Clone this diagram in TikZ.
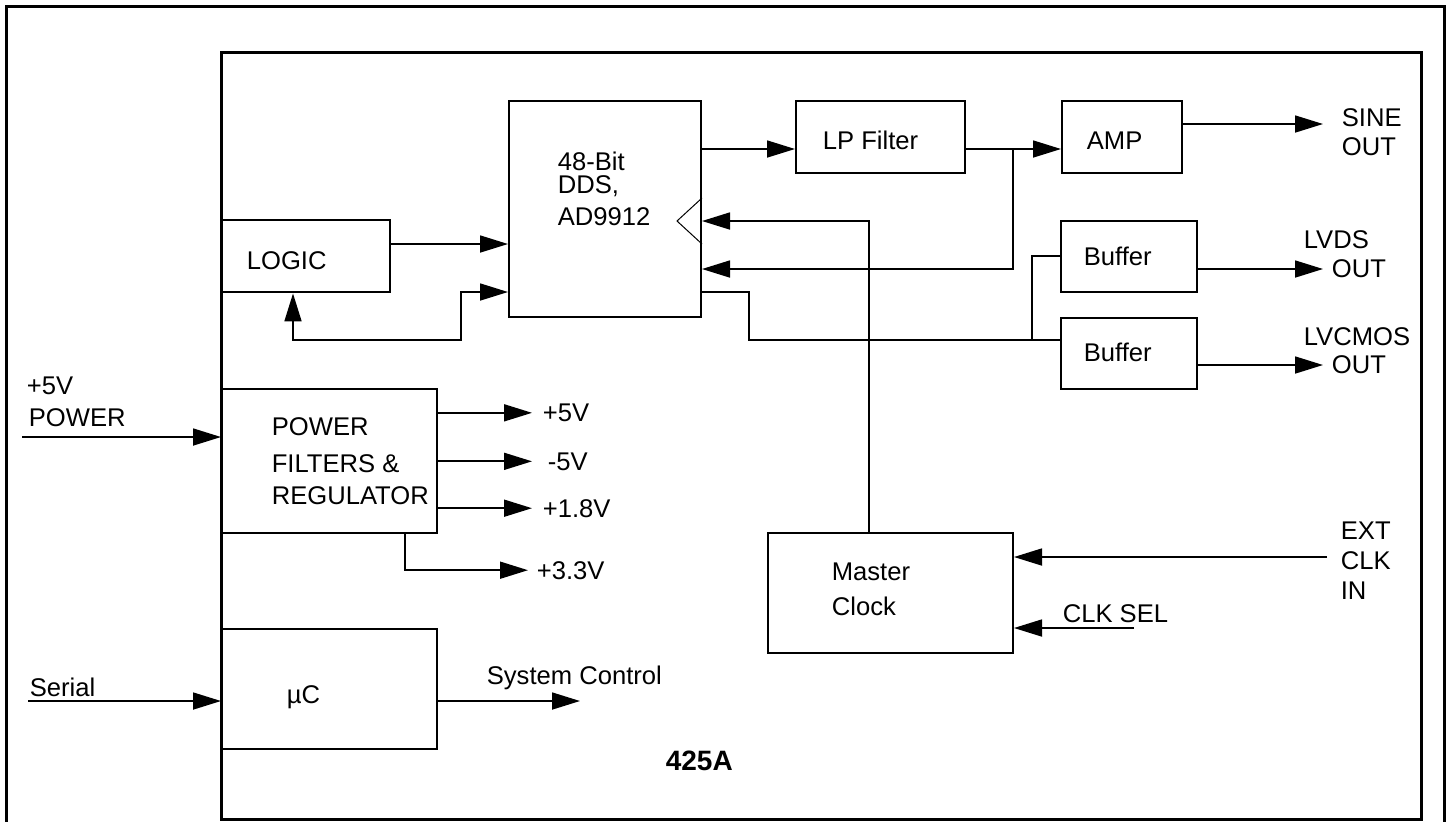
\documentclass[tikz,border=0pt]{standalone}
\usepackage{fontspec}
\setmainfont{Liberation Sans}
\usetikzlibrary{arrows.meta,positioning,calc}

\begin{document}
\begin{tikzpicture}[x=0.5pt, y=-0.5pt, >={Triangle[length=14pt,width=8.5pt]},
        line width=0.85pt,
        frame/.style={draw, line width=1.5pt},
        block/.style={rectangle, draw, line width=1pt, inner sep=0pt},
        lbl/.style={inner sep=0pt, anchor=base west, font=\fontsize{12.8}{15}\selectfont}]

    \useasboundingbox (0,0) rectangle (1450,821);

    % frames
    \draw[frame] (6,6) rectangle (1444,860);
    \draw[frame] (221,52.5) rectangle (1421,819);

    % blocks
    \node [block, line width=1.4pt, minimum width=84.5pt, minimum height=36pt] (logic) at (305.5,256) {};
    \node [block, minimum width=96pt, minimum height=108pt] (dds) at (605,209) {};
    \node [block, minimum width=84.5pt, minimum height=36pt] (lpf) at (880.5,137) {};
    \node [block, right=47.5pt of lpf, minimum width=60pt, minimum height=36pt] (amp) {};
    \node [block, minimum width=68pt, minimum height=35.5pt] (bufa) at (1129,256.5) {};
    \node [block, below=12pt of bufa, minimum width=68pt, minimum height=35.5pt] (bufb) {};
    \node [block, minimum width=107.5pt, minimum height=72pt] (power) at (329.5,461) {};
    \node [block, minimum width=107.5pt, minimum height=60pt] (mcu) at (329.5,689) {};
    \node [block, minimum width=122.5pt, minimum height=60pt] (mclk) at (890.5,593) {};

    % texts
    \node [lbl] (logictxt) at (246,269) {LOGIC};
    \node [lbl, align=left, anchor=north west, font=\fontsize{12.8}{11.5}\selectfont] (ddsa) at (557,151) {48-Bit\\DDS,};
    \node [lbl] (ddsc) at (557,225) {AD9912};
    \node [lbl] (lpftxt) at (822,149) {LP Filter};
    \node [lbl] (amptxt) at (1086,149) {AMP};
    \node [lbl] (bufatxt) at (1083,265) {Buffer};
    \node [lbl] (bufbtxt) at (1083,361) {Buffer};
    \node [lbl] (sinea) at (1341,126) {SINE};
    \node [lbl] (sineb) at (1341,155.5) {OUT};
    \node [lbl] (lvdsa) at (1303,248) {LVDS};
    \node [lbl] (lvdsb) at (1331,277) {OUT};
    \node [lbl] (cmosa) at (1303,345) {LVCMOS};
    \node [lbl] (cmosb) at (1331,373) {OUT};
    \node [lbl] (pwra) at (271,435) {POWER};
    \node [lbl] (pwrb) at (271,472) {FILTERS \&};
    \node [lbl] (pwrc) at (271,504) {REGULATOR};
    \node [lbl] (v5) at (542,421.5) {+5V};
    \node [lbl] (vm5) at (547,470) {-5V};
    \node [lbl] (v18) at (542,517) {+1.8V};
    \node [lbl] (v33) at (536,579) {+3.3V};
    \node [lbl] (ina) at (26,394) {+5V};
    \node [lbl] (inb) at (28,426.5) {POWER};
    \node [lbl] (sertxt) at (29,696) {Serial};
    \node [lbl] (mcutxt) at (286,703) {µC};
    \node [lbl] (ctrltxt) at (486,684) {System Control};
    \node [lbl, font=\fontsize{14}{16}\selectfont\bfseries] (model) at (665,770) {425A};
    \node [lbl] (clka) at (831,580) {Master};
    \node [lbl] (clkb) at (831,615) {Clock};
    \node [lbl] (sel) at (1062,622) {CLK SEL};
    \node [lbl, align=left, anchor=north west] (extlbl) at (1340,521.5) {EXT\\CLK\\IN};

    % free ends and joints
    \coordinate (lpjoin) at (1013,149);
    \coordinate (bufjoin) at (1032,340);
    \coordinate (sineend) at (1323,124);
    \coordinate (lvdsend) at (1323,269);
    \coordinate (cmosend) at (1323,365);
    \coordinate (pwrin) at (22,437);
    \coordinate (serin) at (28,701);
    \coordinate (ctrlend) at (580,701);
    \coordinate (extin) at (1327,557);
    \coordinate (selin) at (1134,628);

    % clock input mark
    \draw[line width=0.5pt] (dds.east |- 0,198) -- (677,221) -- (dds.east |- 0,244);

    % signal path
    \draw[->] (logic.east |- 0,244) -- (dds.west |- 0,244);
    \draw[<->] (logic.south -| 293,0) |- (461,340) |- (dds.west |- 0,292);
    \draw[->] (dds.east |- lpjoin) -- (lpf.west |- lpjoin);
    \draw (lpf.east |- lpjoin) -- (lpjoin);
    \draw[->] (lpjoin) -- (amp.west |- lpjoin);
    \draw[->] (lpjoin) |- (dds.east |- 0,269);
    \draw[->] (amp.east |- sineend) -- (sineend);
    \draw (dds.east |- 0,292) -| (749,340) -- (bufb.west |- bufjoin);
    \draw (bufjoin) |- (bufa.west |- 0,256);
    \draw[->] (bufa.east |- lvdsend) -- (lvdsend);
    \draw[->] (bufb.east |- cmosend) -- (cmosend);

    % clock
    \draw[->] (mclk.north -| 869,0) |- (dds.east |- 0,221);
    \draw[->] (extin) -- (mclk.east |- extin);
    \draw[->] (selin) -- (mclk.east |- selin);

    % power and control
    \draw[->] (pwrin) -- (power.west |- pwrin);
    \draw[->] (power.east |- v5.west) -- ([xshift=-5pt]v5.west);
    \draw[->] (power.east |- vm5.west) -- ([xshift=-7.5pt]vm5.west);
    \draw[->] (power.east |- v18.west) -- ([xshift=-5pt]v18.west);
    \draw[->] (power.south -| 405,0) |- ([xshift=-4pt]v33.west);
    \draw[->] (serin) -- (mcu.west |- serin);
    \draw[->] (mcu.east |- ctrlend) -- (ctrlend);
\end{tikzpicture}
\end{document}
